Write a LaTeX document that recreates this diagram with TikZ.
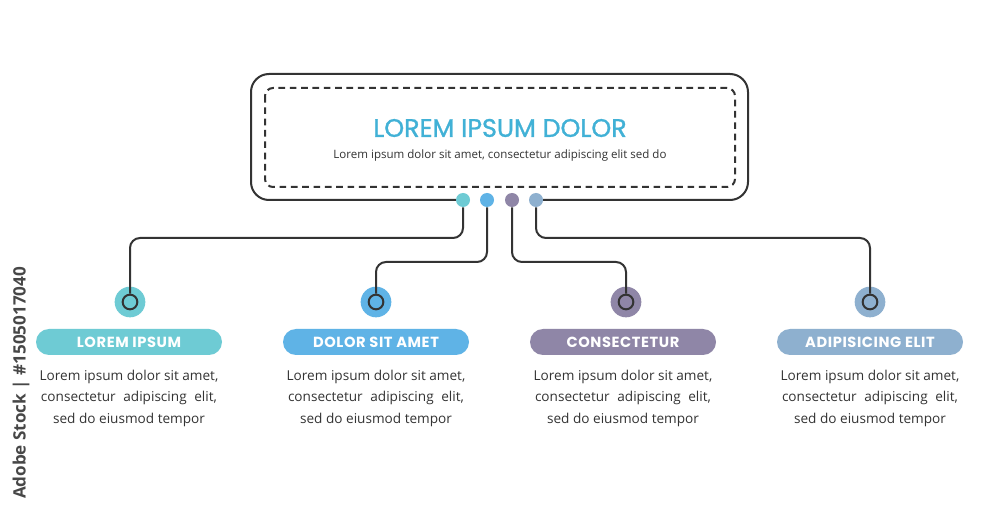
\documentclass[tikz,border=0pt]{standalone}
\usepackage{fontspec}
\setmainfont{Open Sans}
\newfontfamily\headfont[FakeBold=1.2]{Poppins}
\newfontfamily\pillfont[LetterSpace=4]{Poppins}
\usetikzlibrary{calc}
\definecolor{cA}{HTML}{6ECBD4}
\definecolor{cB}{HTML}{5FB3E6}
\definecolor{cC}{HTML}{8F86A7}
\definecolor{cD}{HTML}{8EB0CF}
\definecolor{ink}{HTML}{333333}
\definecolor{titlec}{HTML}{41B1D6}
\newcommand{\jline}[1]{\makebox[132pt][s]{#1}}
\begin{document}
\begin{tikzpicture}[x=0.75pt,y=-0.75pt,
  wire/.style={draw=ink,line width=1.5pt,rounded corners=7.5pt},
  dotnode/.style={circle,inner sep=0pt,minimum size=10.5pt},
  hub/.style={circle,inner sep=0pt,minimum size=23pt},
  ring/.style={circle,draw=ink,line width=1.5pt,inner sep=0pt,minimum size=11pt},
  pill/.style={rounded corners=9.75pt,minimum width=139.5pt,minimum height=19.5pt,inner sep=0pt,text=white,font=\pillfont\bfseries\fontsize{11}{12}\selectfont},
  body/.style={align=center,text=ink,font=\fontsize{10.2}{16}\selectfont,inner sep=0pt},
]
\useasboundingbox (0,0) rectangle (1000,513);
\fill[white] (0,0) rectangle (1000,513);
% main frame
\draw[ink,line width=1.5pt,rounded corners=13.5pt] (456,200) -- (251,200) -- (251,74) -- (748,74) -- (748,200) -- (543,200);
\draw[ink,line width=1.5pt,dashed,dash pattern=on 5pt off 3.5pt,rounded corners=6pt] (265,88) rectangle (735,187);
\node[text=titlec,font=\headfont\fontsize{19}{20}\selectfont] (title) at (500,128) {LOREM IPSUM DOLOR};
\node[text=ink,font=\fontsize{8.65}{10}\selectfont] (sub) at (500,156) {Lorem ipsum dolor sit amet, consectetur adipiscing elit sed do};
% dots
\node[dotnode,fill=cA] (d1) at (463,200) {};
\node[dotnode,fill=cB] (d2) at (487,200) {};
\node[dotnode,fill=cC] (d3) at (512,200) {};
\node[dotnode,fill=cD] (d4) at (536,200) {};
% hubs
\node[hub,fill=cA] (h1) at (130,302) {};
\node[hub,fill=cB] (h2) at (376,302) {};
\node[hub,fill=cC] (h3) at (626,302) {};
\node[hub,fill=cD] (h4) at (870,302) {};
\node[ring] (r1) at (h1) {};
\node[ring] (r2) at (h2) {};
\node[ring] (r3) at (h3) {};
\node[ring] (r4) at (h4) {};
% wires
\draw[wire] (d1.south) -- (d1.south |- 0,238) -- (r1.north |- 0,238) -- (r1.north);
\draw[wire] (d2.south) -- (d2.south |- 0,262) -- (r2.north |- 0,262) -- (r2.north);
\draw[wire] (d3.south) -- (d3.south |- 0,262) -- (r3.north |- 0,262) -- (r3.north);
\draw[wire] (d4.south) -- (d4.south |- 0,238) -- (r4.north |- 0,238) -- (r4.north);
% pills
\node[pill,fill=cA] (p1) at (129,342) {LOREM IPSUM};
\node[pill,fill=cB] (p2) at (376,342) {DOLOR SIT AMET};
\node[pill,fill=cC] (p3) at (623,342) {CONSECTETUR};
\node[pill,fill=cD] (p4) at (870,342) {ADIPISICING ELIT};
% bodies
\foreach \i/\x in {1/129,2/376,3/623,4/870}{
  \node[body,anchor=north] (b\i) at (\x,370) {Lorem ipsum dolor sit amet,\\ \jline{consectetur adipiscing elit,}\\ sed do eiusmod tempor};
}
% side stamp
\node[rotate=90,text=ink!90,font=\bfseries\fontsize{12.8}{14}\selectfont] (stamp) at (21,383) {Adobe Stock | \#1505017040};
\end{tikzpicture}
\end{document}
